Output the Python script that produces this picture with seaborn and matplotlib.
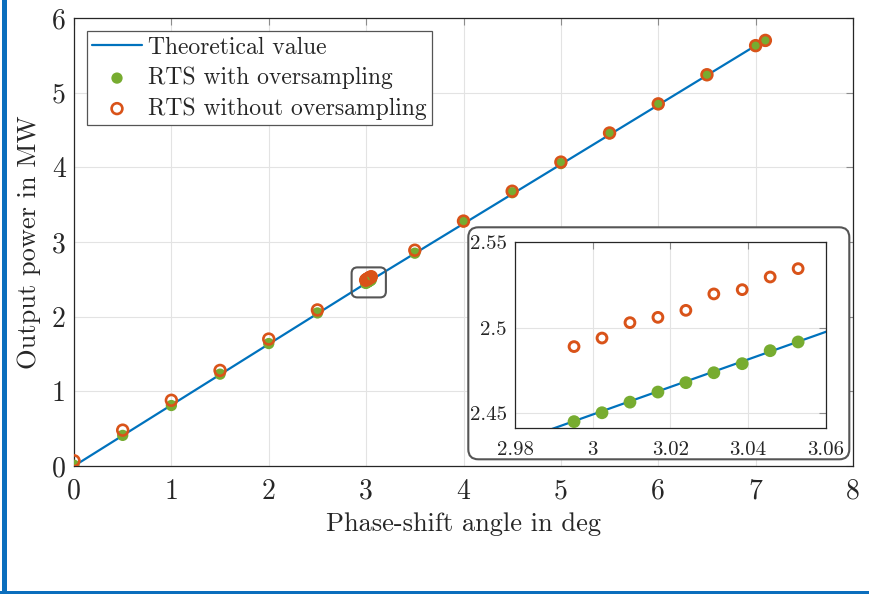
import matplotlib
matplotlib.use("Agg")
import matplotlib.pyplot as plt
from matplotlib.patches import FancyBboxPatch, Rectangle
import pandas as pd
import seaborn as sns

# theoretical output power (straight line)
theory_angle = [0, 2.99, 3.06, 7.0]
theory_power = [0, 2.4412, 2.4976, 5.63]

# coarse sweep, phase-shift angle in deg / output power in MW
sweep_angle = [0, 0.5, 1, 1.5, 2, 2.5, 3.5, 4, 4.5, 5, 5.5, 6, 6.5, 7, 7.1]
power_with_os = [0.01, 0.41, 0.81, 1.23, 1.64, 2.05, 2.85, 3.27, 3.66, 4.05, 4.45, 4.84, 5.23, 5.62, 5.69]
power_without_os = [0.07, 0.48, 0.88, 1.28, 1.70, 2.09, 2.89, 3.28, 3.68, 4.07, 4.46, 4.85, 5.24, 5.63, 5.70]

# fine sweep around 3 deg (zoomed in the inset)
fine_angle = [2.9952, 3.0024, 3.0096, 3.0168, 3.0240, 3.0312, 3.0385, 3.0457, 3.0529]
fine_with_os = [2.4451, 2.4503, 2.4565, 2.4624, 2.4679, 2.4737, 2.4790, 2.4866, 2.4917]
fine_without_os = [2.4890, 2.4940, 2.5030, 2.5061, 2.5102, 2.5198, 2.5223, 2.5297, 2.5346]

main_xticks = [0, 1, 2, 3, 4, 5, 6, 7, 8]
main_yticks = [0, 1, 2, 3, 4, 5, 6]
inset_xticks = [2.98, 3, 3.02, 3.04, 3.06]
inset_yticks = [2.45, 2.5, 2.55]

BLUE = "#0072BD"
ORANGE = "#D95319"
GREEN = "#77AC30"
BORDER = "#0B6EBD"
AXCOL = "#262626"

sns.set_style("white")
plt.rcParams["font.family"] = ["cmr10"]
plt.rcParams["mathtext.fontset"] = "cm"
plt.rcParams["axes.formatter.use_mathtext"] = True

with_os = pd.DataFrame({"angle": sweep_angle + fine_angle, "power": power_with_os + fine_with_os})
without_os = pd.DataFrame({"angle": sweep_angle + fine_angle, "power": power_without_os + fine_without_os})
fine_with = pd.DataFrame({"angle": fine_angle, "power": fine_with_os})
fine_without = pd.DataFrame({"angle": fine_angle, "power": fine_without_os})


def draw_series(ax, d_with, d_without, s_green, s_orange, lw_orange, labels=True):
    sns.lineplot(x=theory_angle, y=theory_power, ax=ax, color=BLUE, linewidth=1.6,
                 label="Theoretical value" if labels else None, zorder=2)
    sns.scatterplot(data=d_with, x="angle", y="power", ax=ax, color=GREEN, s=s_green,
                    edgecolor="none", label="RTS with oversampling" if labels else None, zorder=3)
    sns.scatterplot(data=d_without, x="angle", y="power", ax=ax, color=ORANGE, s=s_orange,
                    label="RTS without oversampling" if labels else None, zorder=4)
    coll = ax.collections[-1]
    coll.set_facecolor("none")
    coll.set_edgecolor(ORANGE)
    coll.set_linewidth(lw_orange)


def style_axes(ax, size, xpad, ypad):
    ax.grid(True, color="#e3e3e3", linewidth=0.8)
    ax.set_axisbelow(True)
    for sp in ax.spines.values():
        sp.set_color(AXCOL)
        sp.set_linewidth(0.9)
    ax.tick_params(direction="in", length=5, width=0.8, color="#8c8c8c",
                   top=True, right=True, labelcolor=AXCOL, labelsize=size)
    ax.tick_params(axis="x", pad=xpad)
    ax.tick_params(axis="y", pad=ypad)


fig = plt.figure(figsize=(8.69, 5.94), dpi=100)
ax = fig.add_axes([74 / 869, 128 / 594, 779 / 869, 448 / 594])

draw_series(ax, with_os, without_os, 66, 60, 1.9)
ax.set_xlim(0, 8)
ax.set_ylim(0, 6)
ax.set_xticks(main_xticks)
ax.set_yticks(main_yticks)
ax.set_xticklabels([str(v) for v in main_xticks])
ax.set_yticklabels([str(v) for v in main_yticks])
style_axes(ax, 20, 9, 6)
ax.set_xlabel("Phase-shift angle in deg", fontsize=19, color=AXCOL, labelpad=5)
ax.set_ylabel("Output power in MW", fontsize=19, color=AXCOL, labelpad=8)

leg = ax.legend(loc="upper left", bbox_to_anchor=(0.0167, 0.970), borderaxespad=0,
                fancybox=False, edgecolor="#555555", framealpha=1, fontsize=17,
                handlelength=2.1, handletextpad=0.25, labelspacing=0.34, borderpad=0.22)
leg.get_frame().set_linewidth(0.9)

# marker of the zoomed region
zoom_box = FancyBboxPatch((2.851, 2.258), 0.352, 0.402,
                          boxstyle="round,pad=0,rounding_size=0.06", mutation_aspect=1.304,
                          facecolor="none", edgecolor="#555555", linewidth=1.5, zorder=5)
ax.add_patch(zoom_box)

# rounded panel behind the inset
panel = FancyBboxPatch((4.683, 1.347), 3.81, 2.32, boxstyle="round,pad=0,rounding_size=0.1",
                       transform=fig.dpi_scale_trans, facecolor="white", edgecolor="#555555",
                       linewidth=1.5, zorder=1)
fig.add_artist(panel)

ax_in = fig.add_axes([515 / 869, 165.7 / 594, 310.7 / 869, 186 / 594])
ax_in.set_zorder(2)
draw_series(ax_in, fine_with, fine_without, 85, 50, 2.1, labels=False)
ax_in.set_xlim(2.98, 3.06)
ax_in.set_ylim(2.4412, 2.55)
ax_in.set_xticks(inset_xticks)
ax_in.set_yticks(inset_yticks)
ax_in.set_xticklabels([f"{v:g}" for v in inset_xticks])
ax_in.set_yticklabels([f"{v:g}" for v in inset_yticks])
ax_in.set_xlabel("")
ax_in.set_ylabel("")
style_axes(ax_in, 15, 9, 6)

# blue frame on the left and bottom of the figure
fig.add_artist(Rectangle((0.015, 0), 0.05, 5.94, transform=fig.dpi_scale_trans,
                         facecolor=BORDER, edgecolor="none", zorder=10))
fig.add_artist(Rectangle((0, 0), 8.69, 0.035, transform=fig.dpi_scale_trans,
                         facecolor=BORDER, edgecolor="none", zorder=10))

fig.savefig("out.png", dpi=100)
